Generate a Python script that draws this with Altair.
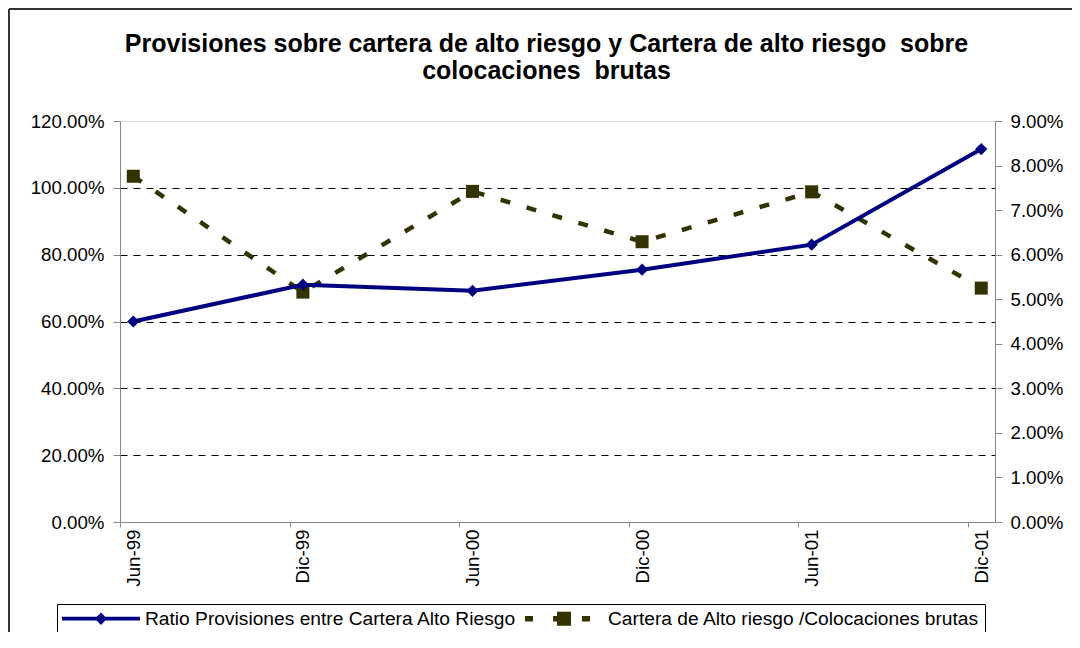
import json
import altair as alt
import pandas as pd

# ---------------- data ----------------
periodos = ["Jun-99", "Dic-99", "Jun-00", "Dic-00", "Jun-01", "Dic-01"]
ratio_provisiones = [0.600, 0.710, 0.692, 0.755, 0.830, 1.116]
cartera_alto_riesgo = [0.0776, 0.0516, 0.0742, 0.0629, 0.0741, 0.0525]
series = ["Ratio Provisiones entre Cartera Alto Riesgo",
          "Cartera de Alto riesgo /Colocaciones brutas"]
left_ticks = [0.0, 0.2, 0.4, 0.6, 0.8, 1.0, 1.2]
right_ticks = [0.00, 0.01, 0.02, 0.03, 0.04, 0.05, 0.06, 0.07, 0.08, 0.09]
title_lines = ["Provisiones sobre cartera de alto riesgo y Cartera de alto riesgo \u00a0sobre",
               "colocaciones \u00a0brutas"]

NAVY = "#000080"
OLIVE = "#333300"
FONT = "Liberation Sans"

df = pd.DataFrame({
    "idx": list(range(len(periodos))),
    "periodo": periodos,
    "ratio": ratio_provisiones,
    "cartera": cartera_alto_riesgo,
})
df_leg = pd.DataFrame({"serie": series})
df_one = pd.DataFrame({"k": [0]})

W, H = 875, 401

x_enc = alt.X(
    "idx:Q",
    title=None,
    scale=alt.Scale(domain=[-0.0784, 5.081], nice=False, zero=False),
    axis=alt.Axis(
        values=list(range(len(periodos))),
        labelExpr=json.dumps(periodos) + "[datum.value]",
        labelAngle=270,
        labelFlush=False,
        labelOverlap=False,
        tickOffset=-13.3,
        labelOffset=13.3,
        tickSize=5,
        labelPadding=2,
        grid=False,
        labelFontSize=18.7,
    ),
)

left_axis = alt.Axis(
    orient="left",
    values=left_ticks,
    format=".2%",
    tickSize=7,
    labelPadding=9,
    labelFontSize=18.7,
    labelFlush=False,
    grid=True,
    gridColor="#000000",
    gridDash=[7, 6],
    gridWidth=1,
    gridOpacity={"condition": {"test": "datum.value > 1.1 || datum.value < 0.1", "value": 0}, "value": 1},
)
right_axis = alt.Axis(
    orient="right",
    values=right_ticks,
    format=".2%",
    tickSize=7,
    labelPadding=8,
    labelFontSize=18.7,
    labelFlush=False,
    grid=False,
)

y_left = alt.Y("ratio:Q", title=None, scale=alt.Scale(domain=[0, 1.2], nice=False), axis=left_axis)
y_right = alt.Y("cartera:Q", title=None, scale=alt.Scale(domain=[0, 0.09], nice=False), axis=right_axis)

base = alt.Chart(df)

olive = alt.layer(
    base.mark_line(color=OLIVE, strokeWidth=4.5, strokeDash=[10, 17]).encode(x=x_enc, y=y_right),
    base.mark_point(shape="square", filled=True, size=170, color=OLIVE, opacity=1).encode(x=x_enc, y=y_right),
)
blue = alt.layer(
    base.mark_line(color=NAVY, strokeWidth=4).encode(x=x_enc, y=y_left),
    base.mark_point(shape="diamond", filled=True, size=150, color=NAVY, opacity=1).encode(x=x_enc, y=y_left),
)

# legend symbols: line with marker, drawn as custom paths
PATH_LINE_DIAMOND = ("M-1,-0.05H-0.11L0,-0.16L0.11,-0.05H1V0.05H0.11L0,0.16L-0.11,0.05H-1Z")
PATH_DASH_SQUARE = ("M-1,-0.07H-0.795V0.07H-1Z "
                    "M-0.28,-0.07H-0.18V-0.18H0.18V0.18H-0.18V0.07H-0.28Z "
                    "M0.46,-0.07H0.667V0.07H0.46Z")

leg = alt.Legend(
    title=None,
    orient="none",
    legendX=-63,
    legendY=483,
    direction="horizontal",
    strokeColor="#000000",
    fillColor="#ffffff",
    padding=5,
    labelFont=FONT,
    labelFontSize=19.2,
    labelColor="#000000",
    labelLimit=700,
    labelOffset=5,
    columnPadding=8,
    symbolSize=6084,
    clipHeight=19,
    symbolStrokeWidth=0,
    symbolOpacity=1,
)

legend_layer = alt.Chart(df_leg).transform_filter("false").mark_point(filled=True, opacity=1).encode(
    color=alt.Color("serie:N", scale=alt.Scale(domain=series, range=[NAVY, OLIVE]), legend=leg),
    shape=alt.Shape("serie:N", scale=alt.Scale(domain=series, range=[PATH_LINE_DIAMOND, PATH_DASH_SQUARE]), legend=leg),
)

# outer chart frame (left and top edges)
frame_v = alt.Chart(df_one).mark_rule(color="#333333", strokeWidth=2).encode(
    x=alt.value(-111), y=alt.value(-112), y2=alt.value(520))
frame_h = alt.Chart(df_one).mark_rule(color="#333333", strokeWidth=2).encode(
    x=alt.value(-111), x2=alt.value(1000), y=alt.value(-112))

chart = alt.layer(olive, blue, legend_layer, frame_v, frame_h).resolve_scale(
    y="independent"
).properties(
    width=W,
    height=H,
    autosize="none",
    padding={"left": 112, "top": 113, "right": 77, "bottom": 110},
    title=alt.TitleParams(
        text=title_lines,
        font=FONT,
        fontSize=25,
        fontWeight="bold",
        lineHeight=27,
        anchor="middle",
        frame="group",
        dx=-11,
        offset=-76,
        color="#000000",
    ),
).configure_view(
    stroke="#7a7a7a", strokeWidth=2
).configure_axis(
    labelFont=FONT,
    labelColor="#000000",
    domainColor="#000000",
    domainWidth=1.5,
    tickColor="#000000",
    tickWidth=1,
).configure(background="#ffffff")

chart.save("out.html", embed_options={"renderer": "svg", "actions": False})
